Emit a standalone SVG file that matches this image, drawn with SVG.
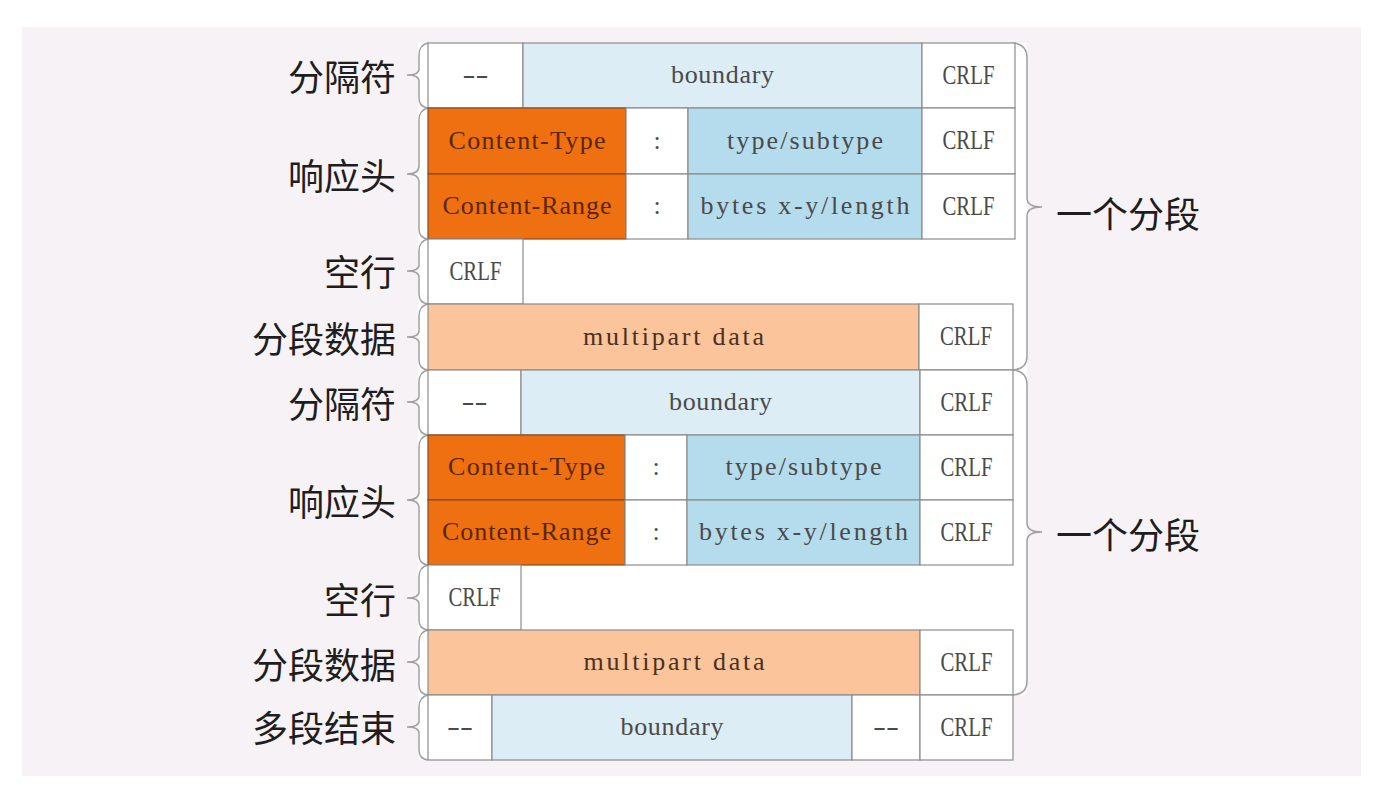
<svg xmlns="http://www.w3.org/2000/svg" width="1387" height="798" viewBox="0 0 1387 798">
<style>
  .bg{fill:#f7f2f5}
  .c{stroke:#8c8c8c;stroke-width:1.2}
  .w{fill:#ffffff}
  .lb{fill:#dcedf6}
  .bl{fill:#b4dcec}
  .or{fill:#ee7010;stroke:#8a4a20}
  .pe{fill:#fcc49a}
  .t{font-family:"Liberation Serif","DejaVu Serif",serif;font-size:26px;fill:#4a4a4a;text-anchor:middle;dominant-baseline:central}
  .cr{font-size:27px}
  .to{fill:#5a2606}
  .tp{fill:#4a3020}
  .lab{font-family:"Noto Sans CJK SC","Noto Sans",sans-serif;font-size:36px;fill:#1e1e1e;text-anchor:end;dominant-baseline:central}
  .seg{font-family:"Noto Sans CJK SC","Noto Sans",sans-serif;font-size:36px;fill:#1e1e1e;dominant-baseline:central}
  .br{fill:none;stroke:#a0a0a0;stroke-width:1.5}
</style>
<rect x="0" y="0" width="1387" height="798" fill="#ffffff"/>
<rect class="bg" x="22" y="27" width="1339" height="749"/>
<rect x="418" y="43" width="609" height="652" fill="#ffffff"/>
<rect x="418" y="695" width="595" height="65" fill="#ffffff"/>

<g id="connectors">
  <path class="br" d="M428,43 Q419,45 419,55 L419,69 Q419,75 407,75 Q419,75 419,81 L419,98 Q419,107 428,108"/>
  <path class="br" d="M428,108 Q419,110 419,120 L419,166 Q419,174 407,174 Q419,174 419,182 L419,229 Q419,238 428,239"/>
  <path class="br" d="M428,239 Q419,241 419,251 L419,265 Q419,271 407,271 Q419,271 419,277 L419,294 Q419,303 428,304"/>
  <path class="br" d="M428,304 Q419,306 419,316 L419,331 Q419,337 407,337 Q419,337 419,343 L419,360 Q419,369 428,370"/>
  <path class="br" d="M428,370 Q419,372 419,382 L419,396 Q419,402 407,402 Q419,402 419,408 L419,425 Q419,434 428,435"/>
  <path class="br" d="M428,435 Q419,437 419,447 L419,492 Q419,500 407,500 Q419,500 419,508 L419,555 Q419,564 428,565"/>
  <path class="br" d="M428,565 Q419,567 419,577 L419,592 Q419,598 407,598 Q419,598 419,604 L419,620 Q419,629 428,630"/>
  <path class="br" d="M428,630 Q419,632 419,642 L419,656 Q419,662 407,662 Q419,662 419,668 L419,685 Q419,694 428,695"/>
  <path class="br" d="M428,695 Q419,697 419,707 L419,721 Q419,727 407,727 Q419,727 419,733 L419,750 Q419,759 428,760"/>
  <path class="br" d="M1013,43 Q1027,44 1027,58 L1027,198 Q1027,207 1042,207 Q1027,207 1027,216 L1027,356 Q1027,369 1013,370"/>
  <path class="br" d="M1013,370 Q1027,371 1027,385 L1027,523 Q1027,532 1042,532 Q1027,532 1027,541 L1027,681 Q1027,694 1013,695"/>
</g>

<g id="seg1-delim">
  <rect class="c w" x="428" y="43" width="95" height="65"/>
  <rect class="c lb" x="523" y="43" width="399" height="65"/>
  <rect class="c w" x="922" y="43" width="93" height="65"/>
  <text class="t" x="475.5" y="74.5" textLength="26" lengthAdjust="spacingAndGlyphs">--</text>
  <text class="t" x="722.5" y="74.5" textLength="103" lengthAdjust="spacing">boundary</text>
  <text class="t cr" x="968.5" y="74.5" textLength="52" lengthAdjust="spacingAndGlyphs">CRLF</text>
</g>
<g id="seg1-ctype">
  <rect class="c or" x="428" y="108" width="198" height="66"/>
  <rect class="c w" x="626" y="108" width="62" height="66"/>
  <rect class="c bl" x="688" y="108" width="234" height="66"/>
  <rect class="c w" x="922" y="108" width="93" height="66"/>
  <text class="t to" x="527" y="140" textLength="157" lengthAdjust="spacing">Content-Type</text>
  <text class="t" x="657" y="140">:</text>
  <text class="t" x="805" y="140" textLength="156" lengthAdjust="spacing">type/subtype</text>
  <text class="t cr" x="968.5" y="140" textLength="52" lengthAdjust="spacingAndGlyphs">CRLF</text>
</g>
<g id="seg1-crange">
  <rect class="c or" x="428" y="174" width="198" height="65"/>
  <rect class="c w" x="626" y="174" width="62" height="65"/>
  <rect class="c bl" x="688" y="174" width="234" height="65"/>
  <rect class="c w" x="922" y="174" width="93" height="65"/>
  <text class="t to" x="527" y="205.5" textLength="169" lengthAdjust="spacing">Content-Range</text>
  <text class="t" x="657" y="205.5">:</text>
  <text class="t" x="805" y="205.5" textLength="209" lengthAdjust="spacing">bytes x-y/length</text>
  <text class="t cr" x="968.5" y="205.5" textLength="52" lengthAdjust="spacingAndGlyphs">CRLF</text>
</g>
<g id="seg1-empty">
  <rect class="c w" x="428" y="239" width="95" height="65"/>
  <text class="t cr" x="475.5" y="270.5" textLength="52" lengthAdjust="spacingAndGlyphs">CRLF</text>
</g>
<g id="seg1-data">
  <rect class="c pe" x="428" y="304" width="491" height="66"/>
  <rect class="c w" x="919" y="304" width="94" height="66"/>
  <text class="t tp" x="673.5" y="336" textLength="181" lengthAdjust="spacing">multipart data</text>
  <text class="t cr" x="966" y="336" textLength="52" lengthAdjust="spacingAndGlyphs">CRLF</text>
</g>

<g id="seg2-delim">
  <rect class="c w" x="428" y="370" width="93" height="65"/>
  <rect class="c lb" x="521" y="370" width="399" height="65"/>
  <rect class="c w" x="920" y="370" width="93" height="65"/>
  <text class="t" x="474.5" y="401.5" textLength="26" lengthAdjust="spacingAndGlyphs">--</text>
  <text class="t" x="720.5" y="401.5" textLength="103" lengthAdjust="spacing">boundary</text>
  <text class="t cr" x="966.5" y="401.5" textLength="52" lengthAdjust="spacingAndGlyphs">CRLF</text>
</g>
<g id="seg2-ctype">
  <rect class="c or" x="428" y="435" width="197" height="65"/>
  <rect class="c w" x="625" y="435" width="62" height="65"/>
  <rect class="c bl" x="687" y="435" width="233" height="65"/>
  <rect class="c w" x="920" y="435" width="93" height="65"/>
  <text class="t to" x="526.5" y="466.5" textLength="157" lengthAdjust="spacing">Content-Type</text>
  <text class="t" x="656" y="466.5">:</text>
  <text class="t" x="803.5" y="466.5" textLength="156" lengthAdjust="spacing">type/subtype</text>
  <text class="t cr" x="966.5" y="466.5" textLength="52" lengthAdjust="spacingAndGlyphs">CRLF</text>
</g>
<g id="seg2-crange">
  <rect class="c or" x="428" y="500" width="197" height="65"/>
  <rect class="c w" x="625" y="500" width="62" height="65"/>
  <rect class="c bl" x="687" y="500" width="233" height="65"/>
  <rect class="c w" x="920" y="500" width="93" height="65"/>
  <text class="t to" x="526.5" y="531.5" textLength="169" lengthAdjust="spacing">Content-Range</text>
  <text class="t" x="656" y="531.5">:</text>
  <text class="t" x="803.5" y="531.5" textLength="209" lengthAdjust="spacing">bytes x-y/length</text>
  <text class="t cr" x="966.5" y="531.5" textLength="52" lengthAdjust="spacingAndGlyphs">CRLF</text>
</g>
<g id="seg2-empty">
  <rect class="c w" x="428" y="565" width="93" height="65"/>
  <text class="t cr" x="474.5" y="596.5" textLength="52" lengthAdjust="spacingAndGlyphs">CRLF</text>
</g>
<g id="seg2-data">
  <rect class="c pe" x="428" y="630" width="492" height="65"/>
  <rect class="c w" x="920" y="630" width="93" height="65"/>
  <text class="t tp" x="674" y="661.5" textLength="181" lengthAdjust="spacing">multipart data</text>
  <text class="t cr" x="966.5" y="661.5" textLength="52" lengthAdjust="spacingAndGlyphs">CRLF</text>
</g>
<g id="end-delim">
  <rect class="c w" x="428" y="695" width="64" height="65"/>
  <rect class="c lb" x="492" y="695" width="360" height="65"/>
  <rect class="c w" x="852" y="695" width="68" height="65"/>
  <rect class="c w" x="920" y="695" width="93" height="65"/>
  <text class="t" x="460" y="726.5" textLength="26" lengthAdjust="spacingAndGlyphs">--</text>
  <text class="t" x="672" y="726.5" textLength="103" lengthAdjust="spacing">boundary</text>
  <text class="t" x="886" y="726.5" textLength="26" lengthAdjust="spacingAndGlyphs">--</text>
  <text class="t cr" x="966.5" y="726.5" textLength="52" lengthAdjust="spacingAndGlyphs">CRLF</text>
</g>

<g id="labels">
  <text class="lab" x="396" y="75">分隔符</text>
  <text class="lab" x="396" y="174">响应头</text>
  <text class="lab" x="396" y="270">空行</text>
  <text class="lab" x="396" y="337">分段数据</text>
  <text class="lab" x="396" y="402">分隔符</text>
  <text class="lab" x="396" y="500">响应头</text>
  <text class="lab" x="396" y="598">空行</text>
  <text class="lab" x="396" y="663">分段数据</text>
  <text class="lab" x="396" y="726">多段结束</text>
  <text class="seg" x="1056" y="212">一个分段</text>
  <text class="seg" x="1056" y="533">一个分段</text>
</g>
</svg>
